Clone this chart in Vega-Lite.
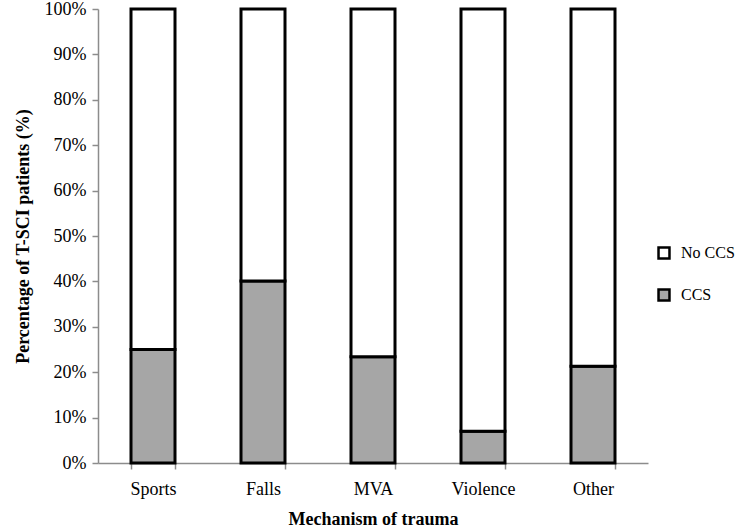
{
  "$schema": "https://vega.github.io/schema/vega-lite/v6.json",
  "autosize": "none",
  "width": 550,
  "height": 454,
  "padding": {"left": 98, "top": 9, "right": 89, "bottom": 68},
  "background": "white",
  "config": {
    "view": {"stroke": null},
    "font": "Liberation Serif",
    "legend": {"labelFont": "Liberation Serif", "labelFontSize": 16, "labelColor": "black"}
  },
  "data": {
    "values": [
      {"mechanism": "Sports", "type": "CCS", "pct": 25.0},
      {"mechanism": "Sports", "type": "No CCS", "pct": 75.0},
      {"mechanism": "Falls", "type": "CCS", "pct": 40.1},
      {"mechanism": "Falls", "type": "No CCS", "pct": 59.9},
      {"mechanism": "MVA", "type": "CCS", "pct": 23.4},
      {"mechanism": "MVA", "type": "No CCS", "pct": 76.6},
      {"mechanism": "Violence", "type": "CCS", "pct": 7.0},
      {"mechanism": "Violence", "type": "No CCS", "pct": 93.0},
      {"mechanism": "Other", "type": "CCS", "pct": 21.3},
      {"mechanism": "Other", "type": "No CCS", "pct": 78.7}
    ]
  },
  "mark": {"type": "bar", "stroke": "black", "strokeWidth": 3},
  "encoding": {
    "x": {
      "field": "mechanism",
      "type": "nominal",
      "sort": ["Sports", "Falls", "MVA", "Violence", "Other"],
      "scale": {"paddingInner": 0.6, "paddingOuter": 0.3},
      "axis": {
        "title": "Mechanism of trauma",
        "titleFont": "Liberation Serif",
        "titleFontSize": 18,
        "titleFontWeight": "bold",
        "titleColor": "black",
        "titlePadding": 12,
        "labelAngle": 0,
        "labelFont": "Liberation Serif",
        "labelFontSize": 18,
        "labelColor": "black",
        "labelPadding": 11,
        "tickBand": "extent",
        "tickSize": 6,
        "tickColor": "#8c8c8c",
        "domainColor": "#8c8c8c",
        "domainWidth": 1.5,
        "tickWidth": 1.5
      }
    },
    "y": {
      "field": "pct",
      "type": "quantitative",
      "stack": "zero",
      "scale": {"domain": [0, 100], "nice": false},
      "axis": {
        "title": "Percentage of T-SCI patients (%)",
        "titleFont": "Liberation Serif",
        "titleFontSize": 18,
        "titleFontWeight": "bold",
        "titleColor": "black",
        "titlePadding": 12,
        "values": [0, 10, 20, 30, 40, 50, 60, 70, 80, 90, 100],
        "labelExpr": "datum.value + '%'",
        "labelFont": "Liberation Serif",
        "labelFontSize": 18,
        "labelColor": "black",
        "labelPadding": 6,
        "grid": false,
        "tickSize": 6,
        "tickColor": "#8c8c8c",
        "domainColor": "#8c8c8c",
        "domainWidth": 1.5,
        "tickWidth": 1.5
      }
    },
    "color": {
      "field": "type",
      "type": "nominal",
      "scale": {"domain": ["No CCS", "CCS"], "range": ["white", "#a6a6a6"]},
      "legend": {
        "title": null,
        "orient": "none",
        "legendX": 558,
        "legendY": 236,
        "symbolType": "square",
        "symbolSize": 120,
        "symbolStrokeColor": "black",
        "symbolStrokeWidth": 2.5,
        "labelFont": "Liberation Serif",
        "labelFontSize": 16,
        "labelColor": "black",
        "labelOffset": 9,
        "rowPadding": 20
      }
    },
    "order": {"field": "type", "sort": "ascending"}
  }
}
